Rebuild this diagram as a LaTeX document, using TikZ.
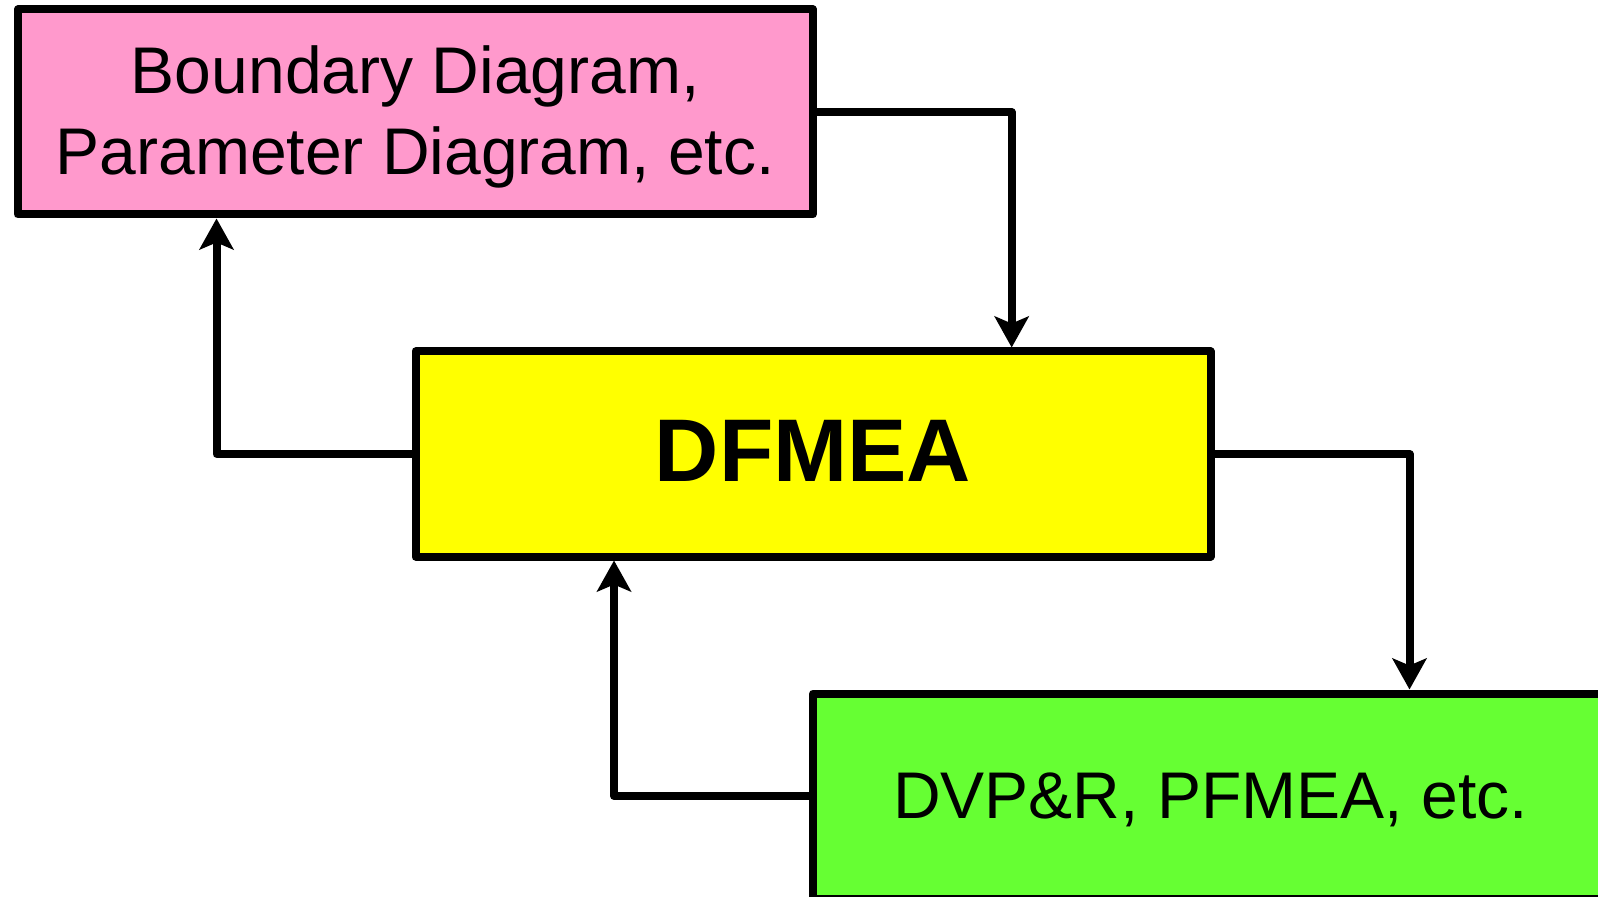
\documentclass[tikz,border=0pt]{standalone}
\usepackage{fontspec}
\setmainfont{Liberation Sans}
\usetikzlibrary{arrows.meta,calc}
\definecolor{boxpink}{RGB}{255,153,204}
\definecolor{boxyellow}{RGB}{255,255,0}
\definecolor{boxgreen}{RGB}{102,255,51}
\begin{document}
\begin{tikzpicture}[x=0.5pt,y=-0.5pt,
  blockbox/.style={draw=black, line width=4pt, line join=round,
    minimum width=397.5pt, minimum height=102.5pt, inner sep=0pt,
    align=center, text depth=0pt},
  arr/.style={line width=4pt, line join=round,
    -{Stealth[length=15.5pt, width=17pt, inset=3.5pt]}}]
\useasboundingbox (0,0) rectangle (1598,897);
\clip (0,0) rectangle (1598,897);
\node[blockbox, fill=boxpink, font=\fontsize{33}{40.8}\selectfont, text height=63pt]
  (pink) at (415.25,112) {Boundary Diagram,\\Parameter Diagram, etc.};
\node[blockbox, fill=boxyellow, font=\fontsize{44.5}{53}\selectfont\bfseries, text height=27pt]
  (yellow) at (813,454) {DFMEA};
\node[blockbox, fill=boxgreen, font=\fontsize{33}{40.8}\selectfont, text height=22.5pt]
  (green) at (1210.5,796) {DVP\&R, PFMEA, etc.};
\draw[arr] (pink.east) -| ($(yellow.north west)!0.7474!(yellow.north east)$);
\draw[arr] (yellow.west) -| ($(pink.south west)!0.2525!(pink.south east)$);
\draw[arr] (yellow.east) -| ($(green.north west)!0.7478!(green.north east)$);
\draw[arr] (green.west) -| ($(yellow.south west)!0.2522!(yellow.south east)$);
\end{tikzpicture}
\end{document}
